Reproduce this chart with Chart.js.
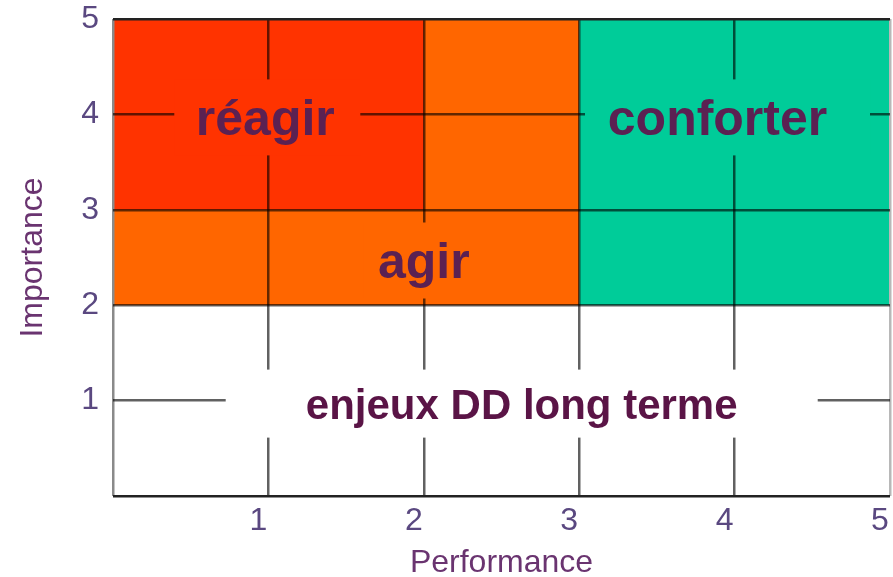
<!DOCTYPE html>
<html>
<head>
<meta charset="utf-8">
<script src="https://cdn.jsdelivr.net/npm/chart.js@4.4.1/dist/chart.umd.min.js"></script>
<style>
  html, body { margin: 0; padding: 0; background: #fff; }
  #wrap { width: 893px; height: 577px; }
</style>
</head>
<body>
<div id="wrap"><canvas id="matrix" width="893" height="577"></canvas></div>
<script>
// zones of the matrix (Performance on x, Importance on y)
const zoneNames = ['réagir', 'agir', 'conforter'];
const zoneXFrom = [0, 0, 3];
const zoneXTo   = [2, 3, 5];
const zoneYFrom = [3, 2, 2];
const zoneYTo   = [5, 5, 5];

// text labels and where they sit (in axis units)
const labelText = ['réagir', 'agir', 'conforter', 'enjeux DD long terme'];
const labelX = [0.98, 2, 3.89, 2.63];
const labelY = [4, 2.5, 4, 1];

const axisTicks = [0, 1, 2, 3, 4, 5];

const zoneColors = ['#ff3300', '#ff6600', '#00cc99'];
const labelBoxColors = ['#ff3300', '#ff6600', '#00cc99', '#ffffff'];
const labelBoxW = [186, 120, 285, 592];
const labelBoxH = [76, 76, 76, 68];
const labelBoxDx = [2, 0, 10, 0];
const labelFont = ['bold 50px "Liberation Sans"', 'bold 50px "Liberation Sans"', 'bold 50px "Liberation Sans"', 'bold 42px "Liberation Sans"'];

const FONT = '"Liberation Sans", Arial, sans-serif';

const datasets = zoneNames.map((name, i) => ({
  label: name,
  data: [{x: zoneXFrom[i], y: zoneYTo[i]}, {x: zoneXTo[i], y: zoneYTo[i]}],
  fill: {value: zoneYFrom[i]},
  backgroundColor: zoneColors[i],
  borderWidth: 0,
  pointRadius: 0,
  tension: 0,
  order: name === 'réagir' ? 0 : 1
}));

const zoneLabels = {
  id: 'zoneLabels',
  afterDraw(chart) {
    const {ctx} = chart;
    const x = chart.scales.x, y = chart.scales.y;
    labelText.forEach((t, i) => {
      const px = x.getPixelForValue(labelX[i]);
      const py = y.getPixelForValue(labelY[i]);
      ctx.save();
      ctx.fillStyle = labelBoxColors[i];
      ctx.fillRect(px + labelBoxDx[i] - labelBoxW[i] / 2, py - labelBoxH[i] / 2 + 3, labelBoxW[i], labelBoxH[i]);
      ctx.font = labelFont[i];
      ctx.fillStyle = i === 3 ? '#5a1446' : '#5b2152';
      ctx.textAlign = 'center';
      ctx.textBaseline = 'middle';
      ctx.fillText(t, px, py + 7);
      ctx.restore();
    });
  }
};

const innerGrid = 'rgba(0,0,0,0.62)';

new Chart(document.getElementById('matrix'), {
  type: 'line',
  data: { datasets: datasets },
  plugins: [zoneLabels],
  options: {
    responsive: false,
    animation: false,
    layout: { padding: { top: 19, right: 3, left: 0, bottom: 0 } },
    plugins: { legend: { display: false }, tooltip: { enabled: false } },
    scales: {
      x: {
        type: 'linear',
        min: axisTicks[0],
        max: axisTicks[axisTicks.length - 1],
        afterBuildTicks: s => { s.ticks = axisTicks.map(v => ({value: v})); },
        afterFit: s => { s.height = 81; s.paddingLeft = 0; s.paddingRight = 0; },
        grid: {
          z: 1,
          drawTicks: false,
          lineWidth: 2.5,
          color: c => c.tick.value === 0 ? '#8a8a8a' : (c.tick.value === 5 ? '#b8b8b8' : innerGrid)
        },
        border: { display: false },
        ticks: {
          padding: 6,
          labelOffset: -10,
          color: '#5a4880',
          font: { family: FONT, size: 32 },
          callback: v => v === 0 ? '' : String(v)
        },
        title: {
          display: true,
          text: 'Performance',
          color: '#6a3470',
          font: { family: FONT, size: 32, lineHeight: 1 },
          padding: { top: 0, bottom: -2 }
        }
      },
      y: {
        type: 'linear',
        min: axisTicks[0],
        max: axisTicks[axisTicks.length - 1],
        afterBuildTicks: s => { s.ticks = axisTicks.map(v => ({value: v})); },
        afterFit: s => { s.width = 113; s.paddingTop = 0; s.paddingBottom = 0; },
        grid: {
          z: 1,
          drawTicks: false,
          lineWidth: 2.5,
          color: c => (c.tick.value === 0 || c.tick.value === 5) ? '#222' : innerGrid
        },
        border: { display: false },
        ticks: {
          padding: 14,
          color: '#5a4880',
          font: { family: FONT, size: 32 },
          callback: v => v === 0 ? '' : String(v)
        },
        title: {
          display: true,
          text: 'Importance',
          color: '#6a3470',
          font: { family: FONT, size: 32, lineHeight: 1 },
          padding: { top: 17, bottom: 0 }
        }
      }
    }
  }
});
</script>
</body>
</html>
